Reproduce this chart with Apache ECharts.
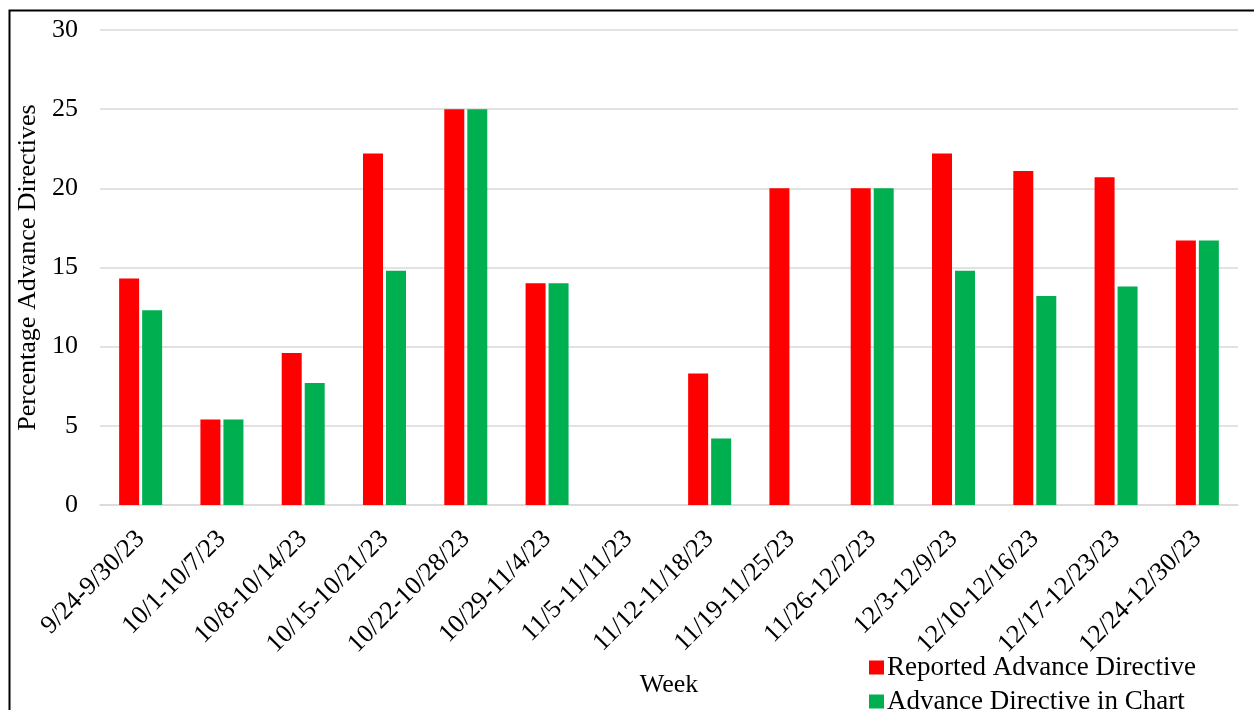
<!DOCTYPE html>
<html>
<head>
<meta charset="utf-8">
<script src="https://cdn.jsdelivr.net/npm/echarts@6/dist/echarts.min.js"></script>
<style>
  html, body { margin: 0; padding: 0; background: #fff; }
  #chart { width: 1254px; height: 710px; }
</style>
</head>
<body>
<div id="chart"></div>
<script>
// Weekly share of visits with an advance directive
const weeks = [
  '9/24-9/30/23', '10/1-10/7/23', '10/8-10/14/23', '10/15-10/21/23',
  '10/22-10/28/23', '10/29-11/4/23', '11/5-11/11/23', '11/12-11/18/23',
  '11/19-11/25/23', '11/26-12/2/23', '12/3-12/9/23', '12/10-12/16/23',
  '12/17-12/23/23', '12/24-12/30/23'
];
const reported = [14.3, 5.4, 9.6, 22.2, 25.0, 14.0, 0, 8.3, 20.0, 20.0, 22.2, 21.1, 20.7, 16.7];
const inChart  = [12.3, 5.4, 7.7, 14.8, 25.0, 14.0, 0, 4.2, 0, 20.0, 14.8, 13.2, 13.8, 16.7];
const seriesNames = ['Reported Advance Directive', 'Advance Directive in Chart'];
const yTicks = { min: 0, max: 30, step: 5 };

const FONT = '"Liberation Serif", "Times New Roman", serif';
const chart = echarts.init(document.getElementById('chart'), null, { renderer: 'canvas' });

// one legend block per series, stacked as two rows
const legendRow = (name, top) => ({
  orient: 'vertical',
  left: 864,
  top: top,
  itemWidth: 15,
  itemHeight: 14,
  itemGap: 6,
  icon: 'rect',
  textStyle: { fontFamily: FONT, fontSize: 27, color: '#000', padding: [0, 0, 0, -2] },
  data: [name]
});

chart.setOption({
  animation: false,
  backgroundColor: '#ffffff',
  textStyle: { fontFamily: FONT, color: '#000' },
  graphic: [{
    type: 'rect',
    shape: { x: 9.5, y: 10.5, width: 1300, height: 760 },
    style: { fill: 'none', stroke: '#000', lineWidth: 2 },
    silent: true
  }],
  grid: { left: 100, right: 16, top: 30, bottom: 205, containLabel: false },
  legend: [legendRow(seriesNames[0], 649), legendRow(seriesNames[1], 683)],
  xAxis: {
    type: 'category',
    data: weeks,
    name: 'Week',
    nameLocation: 'middle',
    nameGap: 167,
    nameTextStyle: { fontFamily: FONT, fontSize: 26, color: '#000' },
    axisLine: { lineStyle: { color: '#d9d9d9', width: 1.5 } },
    axisTick: { show: false },
    axisLabel: {
      rotate: 45,
      interval: 0,
      margin: 30,
      verticalAlign: 'middle',
      fontFamily: FONT,
      fontSize: 26,
      color: '#000'
    }
  },
  yAxis: {
    type: 'value',
    min: yTicks.min,
    max: yTicks.max,
    interval: yTicks.step,
    name: 'Percentage Advance Directives',
    nameLocation: 'middle',
    nameGap: 53,
    nameTextStyle: { fontFamily: FONT, fontSize: 26, color: '#000' },
    axisLine: { show: false },
    axisTick: { show: false },
    axisLabel: { margin: 22, fontFamily: FONT, fontSize: 26, color: '#000' },
    splitLine: { lineStyle: { color: '#d9d9d9', width: 1.5 } }
  },
  series: [
    {
      name: seriesNames[0],
      type: 'bar',
      data: reported,
      barWidth: 20,
      barGap: '15%',
      itemStyle: { color: '#ff0000' }
    },
    {
      name: seriesNames[1],
      type: 'bar',
      data: inChart,
      barWidth: 20,
      itemStyle: { color: '#00b050' }
    }
  ]
});
</script>
</body>
</html>
